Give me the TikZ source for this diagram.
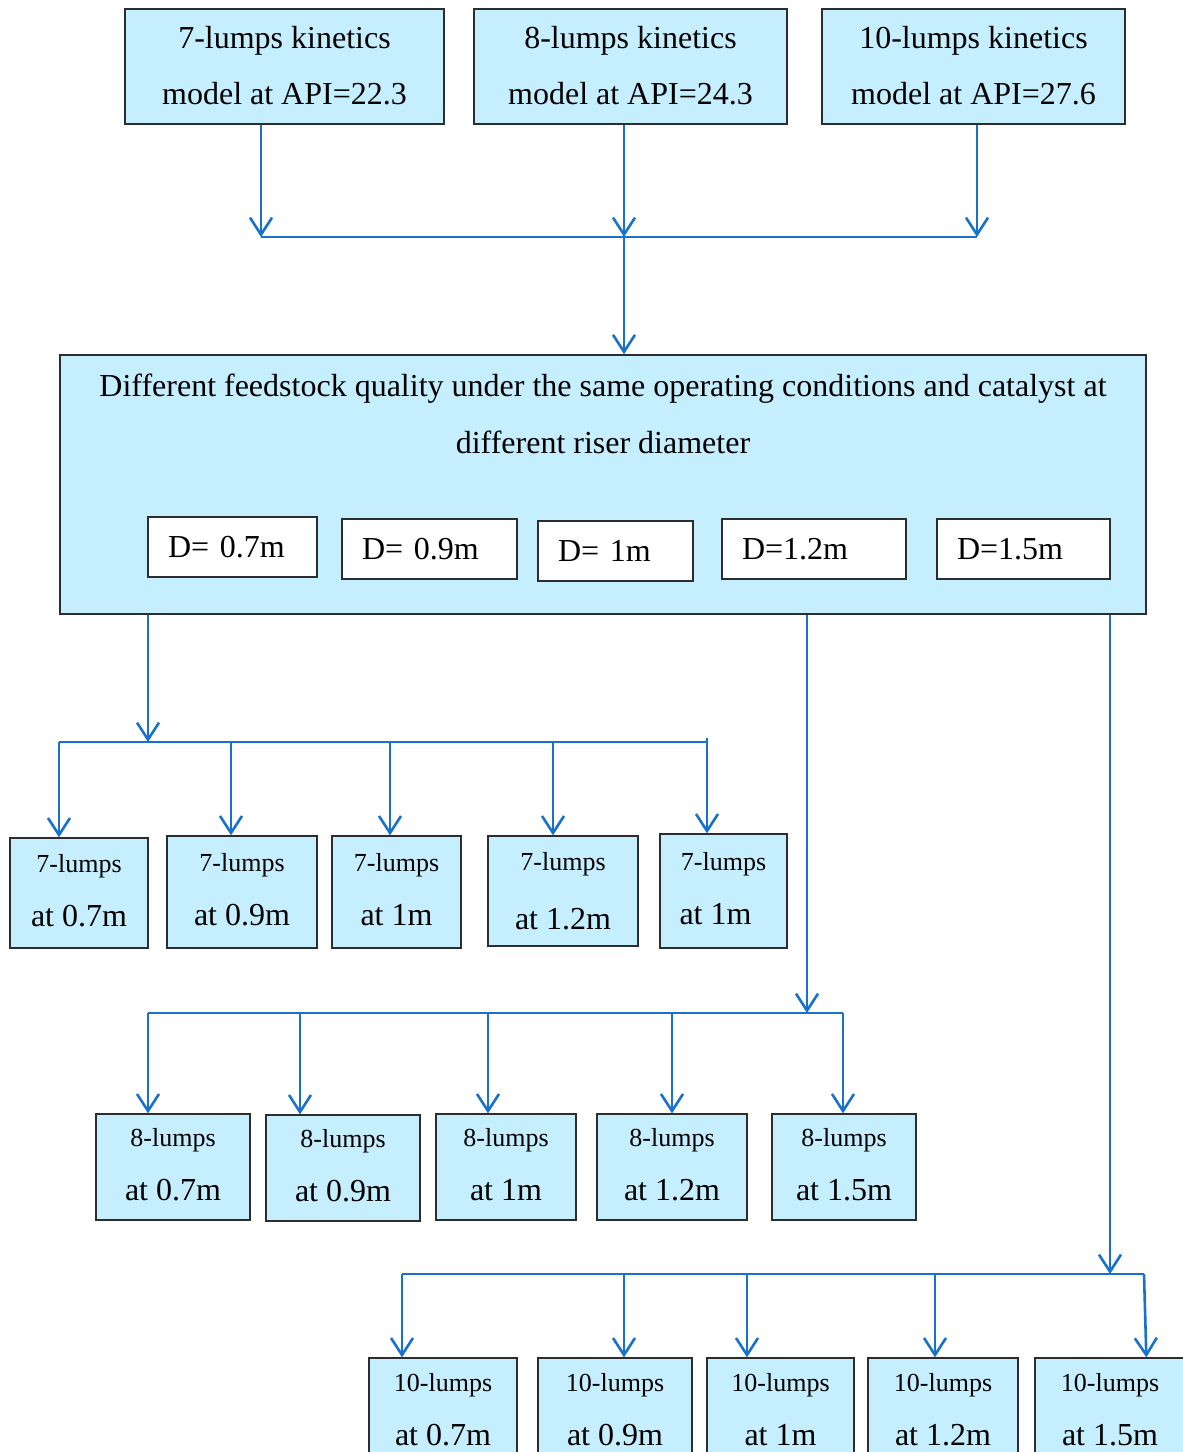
\documentclass[tikz,border=0pt]{standalone}
\usepackage{fontspec}
\setmainfont{Liberation Serif}
\usetikzlibrary{arrows.meta,calc}
\definecolor{boxblue}{RGB}{197,238,254}
\definecolor{edgegray}{RGB}{45,45,45}
\definecolor{flowblue}{RGB}{24,114,204}
% two-line label of a result box: smaller model name over the riser diameter
\newcommand{\lumpslabel}[2]{#1\\{\fontsize{32}{32}\selectfont #2}}
\begin{document}
\begin{tikzpicture}[x=1pt,y=-1pt,
  box/.style={draw=edgegray, line width=1.3pt, fill=boxblue, inner sep=0pt, align=center},
  wh/.style 2 args={minimum width=#1pt, minimum height=#2pt},
  topbox/.style={box, font=\fontsize{32}{56}\selectfont, text depth=2pt},
  lumpbox/.style={box, font=\fontsize{26}{54}\selectfont, text depth=6pt},
  dbox/.style={draw=edgegray, line width=1.3pt, fill=white, inner xsep=20pt, inner ysep=0pt,
    align=left, font=\fontsize{32}{38}\selectfont, minimum height=60pt},
  flow/.style={draw=flowblue, line width=2.6pt, -{Straight Barb[length=17pt,width=22pt]}},
  bus/.style={draw=flowblue, line width=1.8pt}]
\useasboundingbox (0,0) rectangle (1183,1452);
\clip (0,0) rectangle (1183,1452);

% kinetic models
\node[topbox, wh={319}{115}] (t1) at (284.5,66.5) {7-lumps kinetics\\model at API=22.3};
\node[topbox, wh={313}{115}] (t2) at (630.5,66.5) {8-lumps kinetics\\model at API=24.3};
\node[topbox, wh={303}{115}] (t3) at (973.5,66.5) {10-lumps kinetics\\model at API=27.6};

% common study case with the riser diameters
\node[box, wh={1086}{259}, line width=1.6pt] (main) at (603,484.5) {};
\node[font=\fontsize{32}{57}\selectfont, align=center, inner sep=0pt] (title) at (603,413.5)
  {Different feedstock quality under the same operating conditions and catalyst at\\different riser diameter};
\node[dbox, minimum width=169pt, text width=129pt] (d1) at (232.5,547) {D= 0.7m};
\node[dbox, minimum width=175pt, text width=135pt] (d2) at (429.5,549) {D= 0.9m};
\node[dbox, minimum width=155pt, text width=115pt] (d3) at (615.5,551) {D= 1m};
\node[dbox, minimum width=184pt, text width=144pt] (d4) at (814,549) {D=1.2m};
\node[dbox, minimum width=173pt, text width=133pt] (d5) at (1023.5,549) {D=1.5m};

% 7-lumps results
\node[lumpbox, wh={138}{110}] (a1) at (79,893) {\lumpslabel{7-lumps}{at 0.7m}};
\node[lumpbox, wh={150}{112}] (a2) at (242,892) {\lumpslabel{7-lumps}{at 0.9m}};
\node[lumpbox, wh={129}{112}] (a3) at (396.5,892) {\lumpslabel{7-lumps}{at 1m}};
\node[lumpbox, wh={150}{110}, text depth=0pt] (a4) at (563,891) {7-lumps\\[5pt]{\fontsize{32}{32}\selectfont at 1.2m}};
\node[lumpbox, wh={127}{114}] (a5) at (723.5,891) {\lumpslabel{7-lumps}{at 1m\hspace*{16pt}}};

% 8-lumps results
\node[lumpbox, wh={154}{106}] (b1) at (173,1167) {\lumpslabel{8-lumps}{at 0.7m}};
\node[lumpbox, wh={154}{106}] (b2) at (343,1168) {\lumpslabel{8-lumps}{at 0.9m}};
\node[lumpbox, wh={140}{106}] (b3) at (506,1167) {\lumpslabel{8-lumps}{at 1m}};
\node[lumpbox, wh={150}{106}] (b4) at (672,1167) {\lumpslabel{8-lumps}{at 1.2m}};
\node[lumpbox, wh={144}{106}] (b5) at (844,1167) {\lumpslabel{8-lumps}{at 1.5m}};

% 10-lumps results
\node[lumpbox, wh={148}{106}, text depth=3pt] (c1) at (443,1411) {\lumpslabel{10-lumps}{at 0.7m}};
\node[lumpbox, wh={154}{106}, text depth=3pt] (c2) at (615,1411) {\lumpslabel{10-lumps}{at 0.9m}};
\node[lumpbox, wh={147}{106}, text depth=3pt] (c3) at (780.5,1411) {\lumpslabel{10-lumps}{at 1m}};
\node[lumpbox, wh={150}{106}, text depth=3pt] (c4) at (943,1411) {\lumpslabel{10-lumps}{at 1.2m}};
\node[lumpbox, wh={150}{106}, text depth=3pt] (c5) at (1110,1411) {\lumpslabel{10-lumps}{at 1.5m}};

% models merge into the study case
\coordinate (m1) at (261,237);
\coordinate (m2) at (624,237);
\coordinate (m3) at (977,237);
\draw[flow] (t1.south -| m1) -- (m1);
\draw[flow] (t2.south -| m2) -- (m2);
\draw[flow] (t3.south -| m3) -- (m3);
\draw[bus] (m1) -- (m3);
\draw[flow] (m2) -- (m2 |- main.north);

% branch to the 7-lumps results
\coordinate (h7) at (148,742);
\coordinate (p71) at (59,742);
\coordinate (p72) at (231,742);
\coordinate (p73) at (390,742);
\coordinate (p74) at (553,742);
\coordinate (p75) at (707,738);
\draw[flow] (main.south -| h7) -- (h7);
\draw[bus] (p71) -- (p75 |- p71);
\draw[flow] (p71) -- (p71 |- a1.north);
\draw[flow] (p72) -- (p72 |- a2.north);
\draw[flow] (p73) -- (p73 |- a3.north);
\draw[flow] (p74) -- (p74 |- a4.north);
\draw[flow] (p75) -- (p75 |- a5.north);

% branch to the 8-lumps results
\coordinate (h8) at (807,1013);
\coordinate (p81) at (148,1013);
\coordinate (p82) at (300,1013);
\coordinate (p83) at (488,1013);
\coordinate (p84) at (672,1013);
\coordinate (p85) at (843,1013);
\draw[flow] (main.south -| h8) -- (h8);
\draw[bus] (p81) -- (p85);
\draw[flow] (p81) -- (p81 |- b1.north);
\draw[flow] (p82) -- (p82 |- b2.north);
\draw[flow] (p83) -- (p83 |- b3.north);
\draw[flow] (p84) -- (p84 |- b4.north);
\draw[flow] (p85) -- (p85 |- b5.north);

% branch to the 10-lumps results
\coordinate (h10) at (1110,1274);
\coordinate (p101) at (402,1274);
\coordinate (p102) at (624,1274);
\coordinate (p103) at (747,1274);
\coordinate (p104) at (935,1274);
\coordinate (p105) at (1144,1274);
\draw[flow] (main.south -| h10) -- (h10);
\draw[bus] (p101) -- (p105);
\draw[flow] (p101) -- (p101 |- c1.north);
\draw[flow] (p102) -- (p102 |- c2.north);
\draw[flow] (p103) -- (p103 |- c3.north);
\draw[flow] (p104) -- (p104 |- c4.north);
\draw[flow] (p105) -- ($(c5.north west)+(112,0)$);
\end{tikzpicture}
\end{document}
